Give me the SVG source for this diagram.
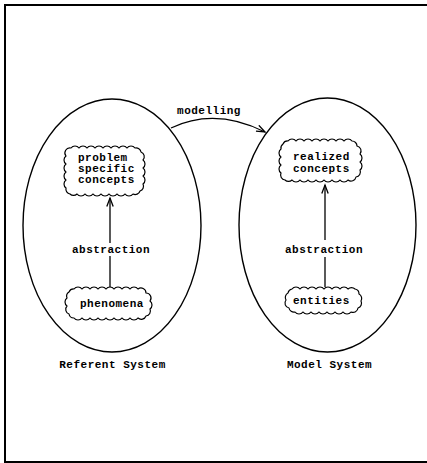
<svg xmlns="http://www.w3.org/2000/svg" width="427" height="463" viewBox="0 0 427 463">
  <style>
    .frame { fill: none; stroke: #000; stroke-width: 2; }
    .system { fill: none; stroke: #000; stroke-width: 1.4; }
    .cloud { fill: #fff; stroke: #000; stroke-width: 1.2; stroke-linejoin: round; }
    .edge { fill: none; stroke: #000; stroke-width: 1.3; }
    .lbl { font-family: "Liberation Mono", "DejaVu Sans Mono", monospace; font-weight: bold; font-size: 11px; letter-spacing: 0.5px; fill: #000; }
    .mid { text-anchor: middle; }
  </style>
  <defs>
    <marker id="arrow" markerUnits="userSpaceOnUse" markerWidth="12" markerHeight="10" refX="9" refY="4" orient="auto">
      <path d="M0.5,0.8 L9,4 L0.5,7.2" fill="none" stroke="#000" stroke-width="1.3"/>
    </marker>
  </defs>

  <rect class="frame" x="5" y="5" width="432" height="457"/>

  <!-- left system: the referent -->
  <g id="referent-system">
    <ellipse class="system" cx="112" cy="225.5" rx="89" ry="126.5"/>
    <text class="lbl mid" x="112.5" y="368">Referent System</text>
  </g>

  <!-- right system: the model -->
  <g id="model-system">
    <ellipse class="system" cx="327.5" cy="225" rx="88.5" ry="127"/>
    <text class="lbl mid" x="329.5" y="367.5">Model System</text>
  </g>

  <g id="connectors">
    <!-- modelling: referent -> model -->
    <path class="edge" d="M171,128 Q215,107 265,132" marker-end="url(#arrow)"/>
    <text class="lbl mid" x="209" y="114">modelling</text>

    <!-- abstraction inside the referent system -->
    <line class="edge" x1="110" y1="287" x2="110" y2="256"/>
    <line class="edge" x1="110" y1="243" x2="110" y2="198" marker-end="url(#arrow)"/>
    <text class="lbl mid" x="111" y="253">abstraction</text>

    <!-- abstraction inside the model system -->
    <line class="edge" x1="325" y1="287" x2="325" y2="257"/>
    <line class="edge" x1="325" y1="240" x2="325" y2="185" marker-end="url(#arrow)"/>
    <text class="lbl mid" x="324" y="252.5">abstraction</text>
  </g>

  <g id="problem-concepts">
    <path class="cloud" d="M71,148 A5,5 0 0 1 79,148 A5,5 0 0 1 87,148 A5,5 0 0 1 95,148 A5,5 0 0 1 103,148 A5,5 0 0 1 111,148 A5,5 0 0 1 119,148 A5,5 0 0 1 127,148 A5,5 0 0 1 135,148 A5,5 0 0 1 141,152 A5,5 0 0 1 143,160 A5,5 0 0 1 143,168 A5,5 0 0 1 143,176 A5,5 0 0 1 143,184 A5,5 0 0 1 140,191 A5,5 0 0 1 133,194 A5,5 0 0 1 125,194 A5,5 0 0 1 117,194 A5,5 0 0 1 109,194 A5,5 0 0 1 101,194 A5,5 0 0 1 93,194 A5,5 0 0 1 85,194 A5,5 0 0 1 77,194 A5,5 0 0 1 70,194 A5,5 0 0 1 66,188 A5,5 0 0 1 66,180 A5,5 0 0 1 66,172 A5,5 0 0 1 66,164 A5,5 0 0 1 66,156 A5,5 0 0 1 71,148 Z"/>
    <text class="lbl" x="78" y="161">problem</text>
    <text class="lbl" x="78" y="172.2">specific</text>
    <text class="lbl" x="78" y="183.4">concepts</text>
  </g>

  <g id="phenomena">
    <path class="cloud" d="M74,289 A5,5 0 0 1 82,289 A5,5 0 0 1 90,289 A5,5 0 0 1 98,289 A5,5 0 0 1 106,289 A5,5 0 0 1 114,289 A5,5 0 0 1 122,289 A5,5 0 0 1 130,289 A5,5 0 0 1 138,289 A5,5 0 0 1 146,293 A5,5 0 0 1 150,301 A5,5 0 0 1 150,309 A5,5 0 0 1 146,316 A5,5 0 0 1 138,318 A5,5 0 0 1 130,318 A5,5 0 0 1 122,318 A5,5 0 0 1 114,318 A5,5 0 0 1 106,318 A5,5 0 0 1 98,318 A5,5 0 0 1 90,318 A5,5 0 0 1 82,318 A5,5 0 0 1 74,318 A5,5 0 0 1 69,314 A5,5 0 0 1 67,306 A5,5 0 0 1 67,298 A5,5 0 0 1 69,292 A5,5 0 0 1 74,289 Z"/>
    <text class="lbl" x="80" y="307">phenomena</text>
  </g>

  <g id="realized-concepts">
    <path class="cloud" d="M288,141 A5,5 0 0 1 296,141 A5,5 0 0 1 304,141 A5,5 0 0 1 312,141 A5,5 0 0 1 320,141 A5,5 0 0 1 328,141 A5,5 0 0 1 336,141 A5,5 0 0 1 344,141 A5,5 0 0 1 352,141 A5,5 0 0 1 357,146 A5,5 0 0 1 360,154 A5,5 0 0 1 360,162 A5,5 0 0 1 360,170 A5,5 0 0 1 356,177 A5,5 0 0 1 348,180 A5,5 0 0 1 340,180 A5,5 0 0 1 332,180 A5,5 0 0 1 324,180 A5,5 0 0 1 316,180 A5,5 0 0 1 308,180 A5,5 0 0 1 300,180 A5,5 0 0 1 292,180 A5,5 0 0 1 285,180 A5,5 0 0 1 281,173 A5,5 0 0 1 281,165 A5,5 0 0 1 281,157 A5,5 0 0 1 281,149 A5,5 0 0 1 283,144 A5,5 0 0 1 288,141 Z"/>
    <text class="lbl" x="293" y="159.5">realized</text>
    <text class="lbl" x="293" y="172">concepts</text>
  </g>

  <g id="entities">
    <path class="cloud" d="M292,289 A5,5 0 0 1 300,289 A5,5 0 0 1 308,289 A5,5 0 0 1 316,289 A5,5 0 0 1 324,289 A5,5 0 0 1 332,289 A5,5 0 0 1 340,289 A5,5 0 0 1 348,289 A5,5 0 0 1 355,289 A5,5 0 0 1 359,294 A5,5 0 0 1 361,301 A5,5 0 0 1 358,308 A5,5 0 0 1 351,312 A5,5 0 0 1 343,312 A5,5 0 0 1 335,312 A5,5 0 0 1 327,312 A5,5 0 0 1 319,312 A5,5 0 0 1 311,312 A5,5 0 0 1 303,312 A5,5 0 0 1 295,312 A5,5 0 0 1 289,308 A5,5 0 0 1 286,300 A5,5 0 0 1 288,293 A5,5 0 0 1 292,289 Z"/>
    <text class="lbl" x="293" y="304">entities</text>
  </g>
</svg>
